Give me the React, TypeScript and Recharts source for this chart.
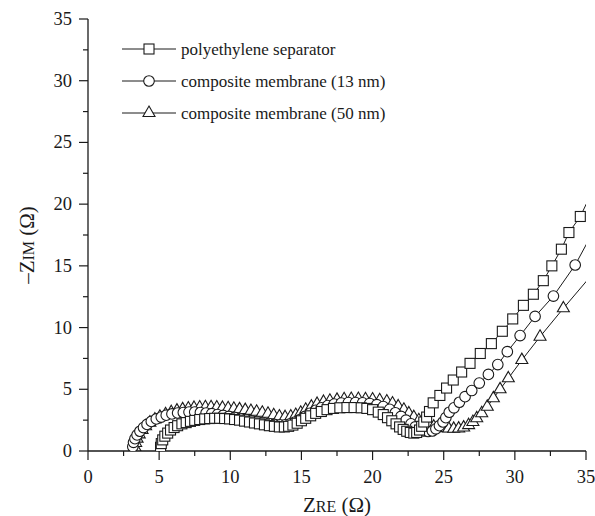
import React from 'react';
import { ScatterChart, Scatter, XAxis, YAxis, Legend } from 'recharts';

const FONT = '"Liberation Serif", "Times New Roman", serif';
const INK = '#1a1a1a';

const AXIS_TICKS = [0, 2.5, 5, 7.5, 10, 12.5, 15, 17.5, 20, 22.5, 25, 27.5, 30, 32.5, 35];

const SERIES_NAMES = [
    'polyethylene separator',
    'composite membrane (13 nm)',
    'composite membrane (50 nm)',
];

// polyethylene separator (squares)
const peX = [5.1, 5.15, 5.25, 5.4, 5.6, 5.8, 6.05, 6.3, 6.6, 6.9, 7.2, 7.5, 7.85, 8.2, 8.55, 8.9, 9.25, 9.6, 9.95, 10.3, 10.65, 11.0, 11.35, 11.7, 12.05, 12.4, 12.75, 13.1, 13.45, 13.8, 14.1, 14.4, 14.7, 15.0, 15.3, 15.65, 16.0, 16.4, 16.8, 17.25, 17.7, 18.2, 18.7, 19.2, 19.6, 20.0, 20.4, 20.75, 21.05, 21.35, 21.65, 21.9, 22.15, 22.4, 22.65, 22.9, 23.1, 23.3, 23.45, 23.6, 23.8, 24.0, 24.26, 24.73, 25.2, 25.67, 26.26, 26.85, 27.57, 28.35, 29.12, 29.85, 30.6, 31.3, 32.0, 32.6, 33.27, 33.8, 34.6, 35.8];
const peY = [0.3, 0.6, 0.9, 1.2, 1.45, 1.7, 1.9, 2.05, 2.2, 2.3, 2.4, 2.48, 2.55, 2.6, 2.63, 2.65, 2.65, 2.63, 2.6, 2.55, 2.5, 2.42, 2.35, 2.27, 2.2, 2.12, 2.05, 2.0, 1.95, 1.95, 2.0, 2.1, 2.25, 2.45, 2.65, 2.85, 3.05, 3.2, 3.35, 3.45, 3.5, 3.52, 3.52, 3.5, 3.45, 3.35, 3.15, 2.95, 2.7, 2.45, 2.2, 1.95, 1.75, 1.6, 1.5, 1.45, 1.5, 1.7, 2.0, 2.35, 2.75, 3.2, 3.9, 4.5, 5.1, 5.75, 6.4, 7.1, 7.9, 8.7, 9.7, 10.7, 11.8, 12.7, 13.8, 15.0, 16.35, 17.7, 19.0, 21.9];

// composite membrane 13 nm (circles)
const c13X = [3.15, 3.2, 3.3, 3.45, 3.65, 3.9, 4.15, 4.45, 4.8, 5.15, 5.5, 5.9, 6.3, 6.7, 7.1, 7.5, 7.9, 8.3, 8.7, 9.1, 9.5, 9.9, 10.3, 10.7, 11.1, 11.5, 11.9, 12.3, 12.7, 13.1, 13.5, 13.85, 14.2, 14.55, 14.9, 15.25, 15.6, 16.0, 16.4, 16.85, 17.3, 17.8, 18.3, 18.8, 19.3, 19.8, 20.3, 20.75, 21.2, 21.6, 22.0, 22.35, 22.7, 23.0, 23.3, 23.6, 23.9, 24.2, 24.45, 24.7, 24.95, 25.15, 25.39, 25.72, 26.1, 26.5, 26.97, 27.5, 28.14, 28.8, 29.47, 30.37, 31.42, 32.71, 34.24, 35.8];
const c13Y = [0.35, 0.7, 1.0, 1.3, 1.6, 1.9, 2.15, 2.4, 2.6, 2.75, 2.9, 3.0, 3.08, 3.12, 3.15, 3.15, 3.12, 3.08, 3.02, 2.95, 2.88, 2.8, 2.72, 2.63, 2.55, 2.45, 2.38, 2.3, 2.22, 2.15, 2.12, 2.12, 2.2, 2.35, 2.55, 2.8, 3.05, 3.3, 3.5, 3.68, 3.8, 3.88, 3.92, 3.92, 3.9, 3.85, 3.75, 3.6, 3.38, 3.1, 2.8, 2.5, 2.2, 1.95, 1.75, 1.62, 1.58, 1.62, 1.8, 2.05, 2.35, 2.7, 3.14, 3.5, 3.95, 4.4, 4.9, 5.5, 6.2, 7.0, 8.05, 9.35, 10.9, 12.55, 15.07, 18.4];

// composite membrane 50 nm (triangles)
const c50X = [3.3, 3.35, 3.45, 3.6, 3.8, 4.05, 4.35, 4.7, 5.05, 5.45, 5.85, 6.25, 6.65, 7.05, 7.45, 7.85, 8.25, 8.65, 9.05, 9.45, 9.85, 10.25, 10.65, 11.05, 11.45, 11.85, 12.25, 12.65, 13.05, 13.45, 13.85, 14.25, 14.6, 14.95, 15.3, 15.7, 16.1, 16.55, 17.0, 17.5, 18.0, 18.5, 19.0, 19.5, 20.0, 20.5, 21.0, 21.4, 21.8, 22.2, 22.55, 22.9, 23.25, 23.6, 23.95, 24.3, 24.65, 25.0, 25.35, 25.7, 26.05, 26.4, 26.75, 27.05, 27.32, 27.67, 28.06, 28.49, 28.96, 29.54, 30.49, 31.77, 33.41, 35.8];
const c50Y = [0.3, 0.65, 1.0, 1.35, 1.7, 2.0, 2.3, 2.55, 2.78, 2.98, 3.15, 3.28, 3.38, 3.45, 3.5, 3.53, 3.55, 3.55, 3.53, 3.5, 3.47, 3.43, 3.38, 3.32, 3.25, 3.18, 3.1, 3.02, 2.9, 2.8, 2.75, 2.8, 2.92, 3.1, 3.35, 3.6, 3.82, 3.98, 4.08, 4.15, 4.2, 4.22, 4.22, 4.2, 4.18, 4.12, 4.02, 3.85, 3.62, 3.35, 3.05, 2.75, 2.5, 2.28, 2.1, 1.98, 1.9, 1.85, 1.82, 1.8, 1.82, 1.9, 2.1, 2.35, 2.65, 3.06, 3.59, 4.27, 5.0, 5.89, 7.37, 9.26, 11.56, 14.8];

const zip = (xs: number[], ys: number[]) => xs.map((x, i) => ({ x, y: ys[i] }));

const peData = zip(peX, peY);
const c13Data = zip(c13X, c13Y);
const c50Data = zip(c50X, c50Y);

// marker shapes
const Square = ({ cx, cy }: any) => (
    <rect x={cx - 5} y={cy - 5} width={10} height={10} fill="#fff" stroke={INK} strokeWidth={1.1} />
);
const Circle = ({ cx, cy }: any) => (
    <circle cx={cx} cy={cy} r={5.3} fill="#fff" stroke={INK} strokeWidth={1.1} />
);
const Triangle = ({ cx, cy }: any) => (
    <path
        d={`M${cx},${cy - 6.9} L${cx + 6},${cy + 3.5} L${cx - 6},${cy + 3.5} Z`}
        fill="#fff" stroke={INK} strokeWidth={1.1}
    />
);

const SHAPES = [Square, Circle, Triangle];

const isMajor = (v: number) => v % 5 === 0;

const BottomTick = ({ x, y, payload }: any) => {
    const major = isMajor(payload.value);
    return (
        <g>
            <line x1={x} x2={x} y1={y} y2={y + (major ? 9 : 5)} stroke={INK} strokeWidth={1.2} />
            {major && (
                <text x={x} y={y + 32} textAnchor="middle" fontFamily={FONT} fontSize={18.5} fill={INK}>
                    {payload.value}
                </text>
            )}
        </g>
    );
};

const LeftTick = ({ x, y, payload }: any) => {
    const major = isMajor(payload.value);
    return (
        <g>
            <line x1={x} x2={x - (major ? 9 : 5)} y1={y} y2={y} stroke={INK} strokeWidth={1.2} />
            {major && (
                <text x={x - 16} y={y + 6} textAnchor="end" fontFamily={FONT} fontSize={18.5} fill={INK}>
                    {payload.value}
                </text>
            )}
        </g>
    );
};

const TopTick = ({ x, y }: any) => (
    <line x1={x} x2={x} y1={y} y2={y + 2} stroke={INK} strokeWidth={1} />
);
const RightTick = ({ x, y }: any) => (
    <line x1={x} x2={x + 2} y1={y} y2={y} stroke={INK} strokeWidth={1} />
);

const XLabel = ({ viewBox }: any) => (
    <text x={viewBox.x + viewBox.width / 2} y={viewBox.y + 61} textAnchor="middle" fontFamily={FONT} fill={INK}>
        <tspan fontSize={21}>Z</tspan>
        <tspan fontSize={16}>RE</tspan>
        <tspan fontSize={21}> (Ω)</tspan>
    </text>
);

const YLabel = () => (
    <text x={0} y={0} transform="translate(34, 245) rotate(-90)" textAnchor="middle" fontFamily={FONT} fill={INK}>
        <tspan fontSize={21}>–Z</tspan>
        <tspan fontSize={16}>IM</tspan>
        <tspan fontSize={21}> (Ω)</tspan>
    </text>
);

const renderLegend = () => (
    <svg width={280} height={95} style={{ display: 'block' }}>
        {SERIES_NAMES.map((name, i) => {
            const Shape = SHAPES[i];
            const cy = 13 + i * 32;
            return (
                <g key={name}>
                    <line x1={4} x2={58} y1={cy} y2={cy} stroke={INK} strokeWidth={1} />
                    <Shape cx={31} cy={cy} />
                    <text x={63} y={cy + 5.5} fontFamily={FONT} fontSize={17} fill={INK}>{name}</text>
                </g>
            );
        })}
    </svg>
);

export default function App() {
    return (
        <div style={{ position: 'absolute', left: 0, top: 0, background: '#fff' }}>
            <ScatterChart width={595} height={516} margin={{ top: 19, right: 9, bottom: 15, left: 28 }}>
                <XAxis
                    xAxisId="b" type="number" dataKey="x" domain={[0, 35]} ticks={AXIS_TICKS}
                    allowDataOverflow interval={0} height={50}
                    tickSize={0} tickMargin={0} tickLine={false}
                    axisLine={{ stroke: INK, strokeWidth: 1.3 }}
                    tick={<BottomTick />}
                    label={<XLabel />}
                />
                <XAxis
                    xAxisId="t" orientation="top" type="number" dataKey="x" domain={[0, 35]} ticks={AXIS_TICKS}
                    allowDataOverflow interval={0} height={0}
                    tickSize={0} tickMargin={0} tickLine={false}
                    axisLine={{ stroke: INK, strokeWidth: 1.3 }}
                    tick={<TopTick />}
                />
                <YAxis
                    yAxisId="l" type="number" dataKey="y" domain={[0, 35]} ticks={AXIS_TICKS}
                    allowDataOverflow interval={0} width={60}
                    tickSize={0} tickMargin={0} tickLine={false}
                    axisLine={{ stroke: INK, strokeWidth: 1.3 }}
                    tick={<LeftTick />}
                    label={<YLabel />}
                />
                <YAxis
                    yAxisId="r" orientation="right" type="number" dataKey="y" domain={[0, 35]} ticks={AXIS_TICKS}
                    allowDataOverflow interval={0} width={0}
                    tickSize={0} tickMargin={0} tickLine={false}
                    axisLine={{ stroke: INK, strokeWidth: 1.3 }}
                    tick={<RightTick />}
                />
                <Scatter
                    name={SERIES_NAMES[2]} data={c50Data} xAxisId="b" yAxisId="l"
                    line={{ stroke: INK, strokeWidth: 1 }} shape={Triangle} isAnimationActive={false}
                />
                <Scatter
                    name={SERIES_NAMES[1]} data={c13Data} xAxisId="b" yAxisId="l"
                    line={{ stroke: INK, strokeWidth: 1 }} shape={Circle} isAnimationActive={false}
                />
                <Scatter
                    name={SERIES_NAMES[0]} data={peData} xAxisId="b" yAxisId="l"
                    line={{ stroke: INK, strokeWidth: 1 }} shape={Square} isAnimationActive={false}
                />
                <Legend
                    layout="vertical" verticalAlign="middle" align="center"
                    content={renderLegend}
                    wrapperStyle={{ left: 118, top: 36, width: 280, height: 95 }}
                />
            </ScatterChart>
        </div>
    );
}
